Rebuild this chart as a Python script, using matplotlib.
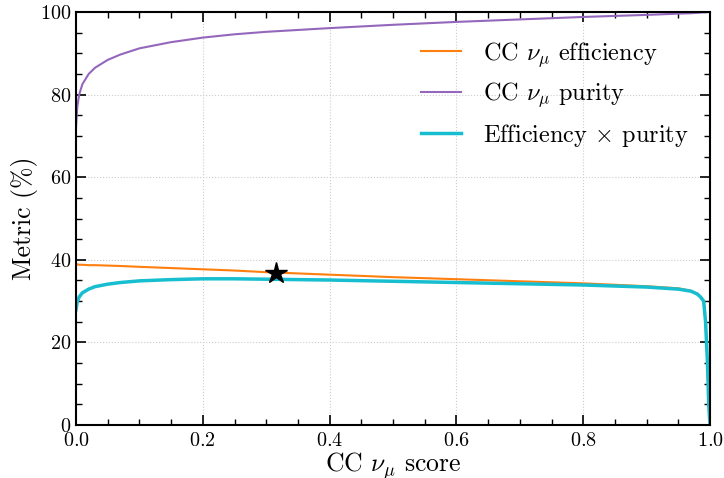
import matplotlib
matplotlib.use("Agg")
import matplotlib.pyplot as plt
from matplotlib.ticker import MultipleLocator

score = [0, 0.002, 0.005, 0.01, 0.02, 0.03, 0.05, 0.07, 0.1, 0.15, 0.2, 0.25, 0.3,
         0.4, 0.5, 0.6, 0.7, 0.8, 0.9, 0.95, 0.97, 0.98, 0.985, 0.99, 0.993, 0.996, 0.998, 1.0]
efficiency = [38.9, 38.9, 38.8, 38.8, 38.7, 38.7, 38.6, 38.5, 38.3, 38.0, 37.7, 37.4, 37.0,
              36.4, 35.8, 35.3, 34.8, 34.3, 33.6, 33.1, 32.5, 31.8, 31.0, 30.0, 25.0, 15.0, 5.0, 0.0]
purity = [72.0, 77.0, 80.0, 82.5, 85.0, 86.5, 88.4, 89.7, 91.2, 92.7, 93.8, 94.6, 95.2,
          96.1, 96.9, 97.6, 98.2, 98.8, 99.3, 99.6, 99.7, 99.8, 99.85, 99.9, 99.9, 99.95, 100.0, 100.0]
eff_x_pur = [27.9, 29.9, 31.0, 32.0, 32.9, 33.5, 34.1, 34.5, 34.9, 35.2, 35.4, 35.4, 35.3,
             35.1, 34.8, 34.5, 34.2, 33.9, 33.4, 32.9, 32.4, 31.7, 31.0, 30.0, 25.0, 15.0, 5.0, 0.0]
best_score = 0.315
best_eff = 36.7

plt.rcParams['font.family'] = 'serif'
plt.rcParams['font.serif'] = ['cmr10', 'DejaVu Serif']
plt.rcParams['mathtext.fontset'] = 'cm'
plt.rcParams['axes.formatter.use_mathtext'] = True

fig = plt.figure(figsize=(7.24, 4.78), dpi=100)
ax = fig.add_axes([76/724, 53/478, 634/724, 413/478])

ax.plot(score, efficiency, color='#ff7f0e', lw=1.5, label=r'CC $\nu_\mu$ efficiency')
ax.plot(score, purity, color='#9467bd', lw=1.5, label=r'CC $\nu_\mu$ purity')
ax.plot(score, eff_x_pur, color='#17becf', lw=2.5, label=r'Efficiency $\times$ purity')
ax.plot([best_score], [best_eff], marker='*', color='black', markersize=16, linestyle='none')

ax.set_xlim(0, 1)
ax.set_ylim(0, 100)
ax.xaxis.set_major_locator(MultipleLocator(0.2))
ax.xaxis.set_minor_locator(MultipleLocator(0.05))
ax.yaxis.set_major_locator(MultipleLocator(20))
ax.yaxis.set_minor_locator(MultipleLocator(5))
ax.tick_params(which='both', direction='in', top=True, right=True, labelsize=14.5)
ax.tick_params(axis='x', which='major', pad=5)
ax.tick_params(which='major', length=7, width=1.2)
ax.tick_params(which='minor', length=4, width=1.0)
for s in ax.spines.values():
    s.set_linewidth(1.5)
ax.grid(True, which='major', linestyle=':', color='#cccccc', linewidth=0.8)

ax.set_xlabel(r'CC $\nu_\mu$ score', fontsize=18.5, labelpad=0)
ax.set_ylabel(r'Metric (%)', fontsize=18.5, labelpad=1)
ax.legend(loc='upper right', frameon=False, fontsize=17.5, handlelength=1.65,
          handletextpad=0.9, bbox_to_anchor=(1.0, 0.985), labelspacing=0.5)

fig.savefig('out.png', dpi=100)
